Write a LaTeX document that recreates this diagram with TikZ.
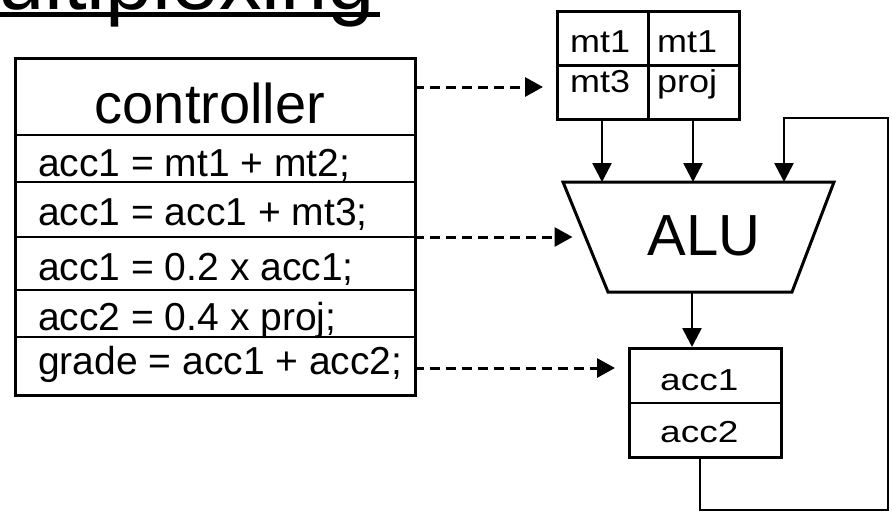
\documentclass[tikz,border=0pt]{standalone}
\usepackage{fontspec}
\setmainfont{Liberation Sans}
\usetikzlibrary{arrows.meta}
\usetikzlibrary{calc}

\tikzset{
  box/.style={line width=3pt},
  divider/.style={line width=1.5pt},
  flow/.style={line width=2.7pt,-{Triangle[length=19pt,width=19pt]}},
  ctrlflow/.style={line width=3pt,dash pattern=on 10pt off 6pt,
    -{Triangle[length=18pt,width=19pt]},shorten >=13pt},
  code/.style={anchor=base west,inner sep=0pt,font=\fontsize{39}{40}\selectfont},
  cell/.style={anchor=base west,inner sep=0pt,font=\fontsize{36}{38}\selectfont},
}

\begin{document}
\begin{tikzpicture}[x=1pt,y=-1pt]
\useasboundingbox (0,0) rectangle (892,512);
\clip (0,0) rectangle (892,512);
% title, cut off at the top
\node[anchor=base west,inner sep=0pt,font=\fontsize{85}{85}\selectfont] (title) at (-74,9) {Multiplexing};
\draw[line width=5pt] ([yshift=-5.5pt]title.base west) -- ([yshift=-5.5pt,xshift=5pt]title.base east);
% controller
\node[draw,box,anchor=north west,minimum width=400pt,minimum height=337pt,inner sep=0pt] (ctrl) at (14,57) {};
\foreach \y in {135,182,237,290,337}
  \draw[divider] (14,\y) -- (414,\y);
\node[anchor=base,inner sep=0pt,font=\fontsize{56}{58}\selectfont] (head) at (210,123) {controller};
\node[code] (s1) at (38,176) {acc1 = mt1 + mt2;};
\node[code] (s2) at (38,225) {acc1 = acc1 + mt3;};
\node[code] (s3) at (38,280) {acc1 = 0.2 x acc1;};
\node[code] (s4) at (38,330) {acc2 = 0.4 x proj;};
\node[code] (s5) at (38,374) {grade = acc1 + acc2;};
% memory
\node[draw,box,anchor=north west,minimum width=182pt,minimum height=108pt,inner sep=0pt] (mem) at (556,10) {};
\draw[line width=2.5pt] (mem.north) -- (mem.south);
\draw[line width=2.5pt] (mem.west) -- (mem.east);
\node[cell] (m1) at (570,52) {\scalebox{1}[0.88]{mt1}};
\node[cell] (m2) at (657,52) {\scalebox{1}[0.88]{mt1}};
\node[cell] (m3) at (570,92) {\scalebox{1}[0.88]{mt3}};
\node[cell] (m4) at (657,92) {\scalebox{1}[0.88]{proj}};
% ALU
\coordinate (A0) at (563,182);
\coordinate (A1) at (834,182);
\coordinate (A2) at (792,292);
\coordinate (A3) at (608,292);
\draw[box] (A0)--(A1)--(A2)--(A3)--cycle;
\node[anchor=base,inner sep=0pt,font=\fontsize{58}{60}\selectfont] (alu) at (704,255) {ALU};
% accumulators
\node[draw,box,anchor=north west,minimum width=152pt,minimum height=109pt,inner sep=0pt] (acc) at (628,347) {};
\draw[line width=2.5pt] (acc.west) -- (acc.east);
\node[cell,font=\fontsize{37}{38}\selectfont] (a1) at (660,390) {\scalebox{1}[0.82]{acc1}};
\node[cell,font=\fontsize{37}{38}\selectfont] (a2) at (660,442) {\scalebox{1}[0.82]{acc2}};
% data paths
\coordinate (B1) at (602,182);
\coordinate (B2) at (693,182);
\coordinate (B3) at (784,182);
\coordinate (B4) at (692,292);
\draw[flow] (B1 |- mem.south) -- (B1);
\draw[flow] (B2 |- mem.south) -- (B2);
\draw[flow] (B4) -- (B4 |- acc.north);
\coordinate (F0) at (700,510);
\coordinate (F1) at (888,510);
\coordinate (F2) at (888,118);
\draw[flow] (F0 |- acc.south) -- (F0) -- (F1) -- (F2) -- (B3 |- F2) -- (B3);
% control signals
\coordinate (D1) at (414,87);
\coordinate (D2) at (414,237);
\coordinate (D3) at (414,368);
\draw[ctrlflow] (D1) -- (D1 -| mem.west);
\draw[ctrlflow] (D2) -- ($(A0)!0.5!(A3)$);
\draw[ctrlflow] (D3) -- (D3 -| acc.west);
\end{tikzpicture}
\end{document}
